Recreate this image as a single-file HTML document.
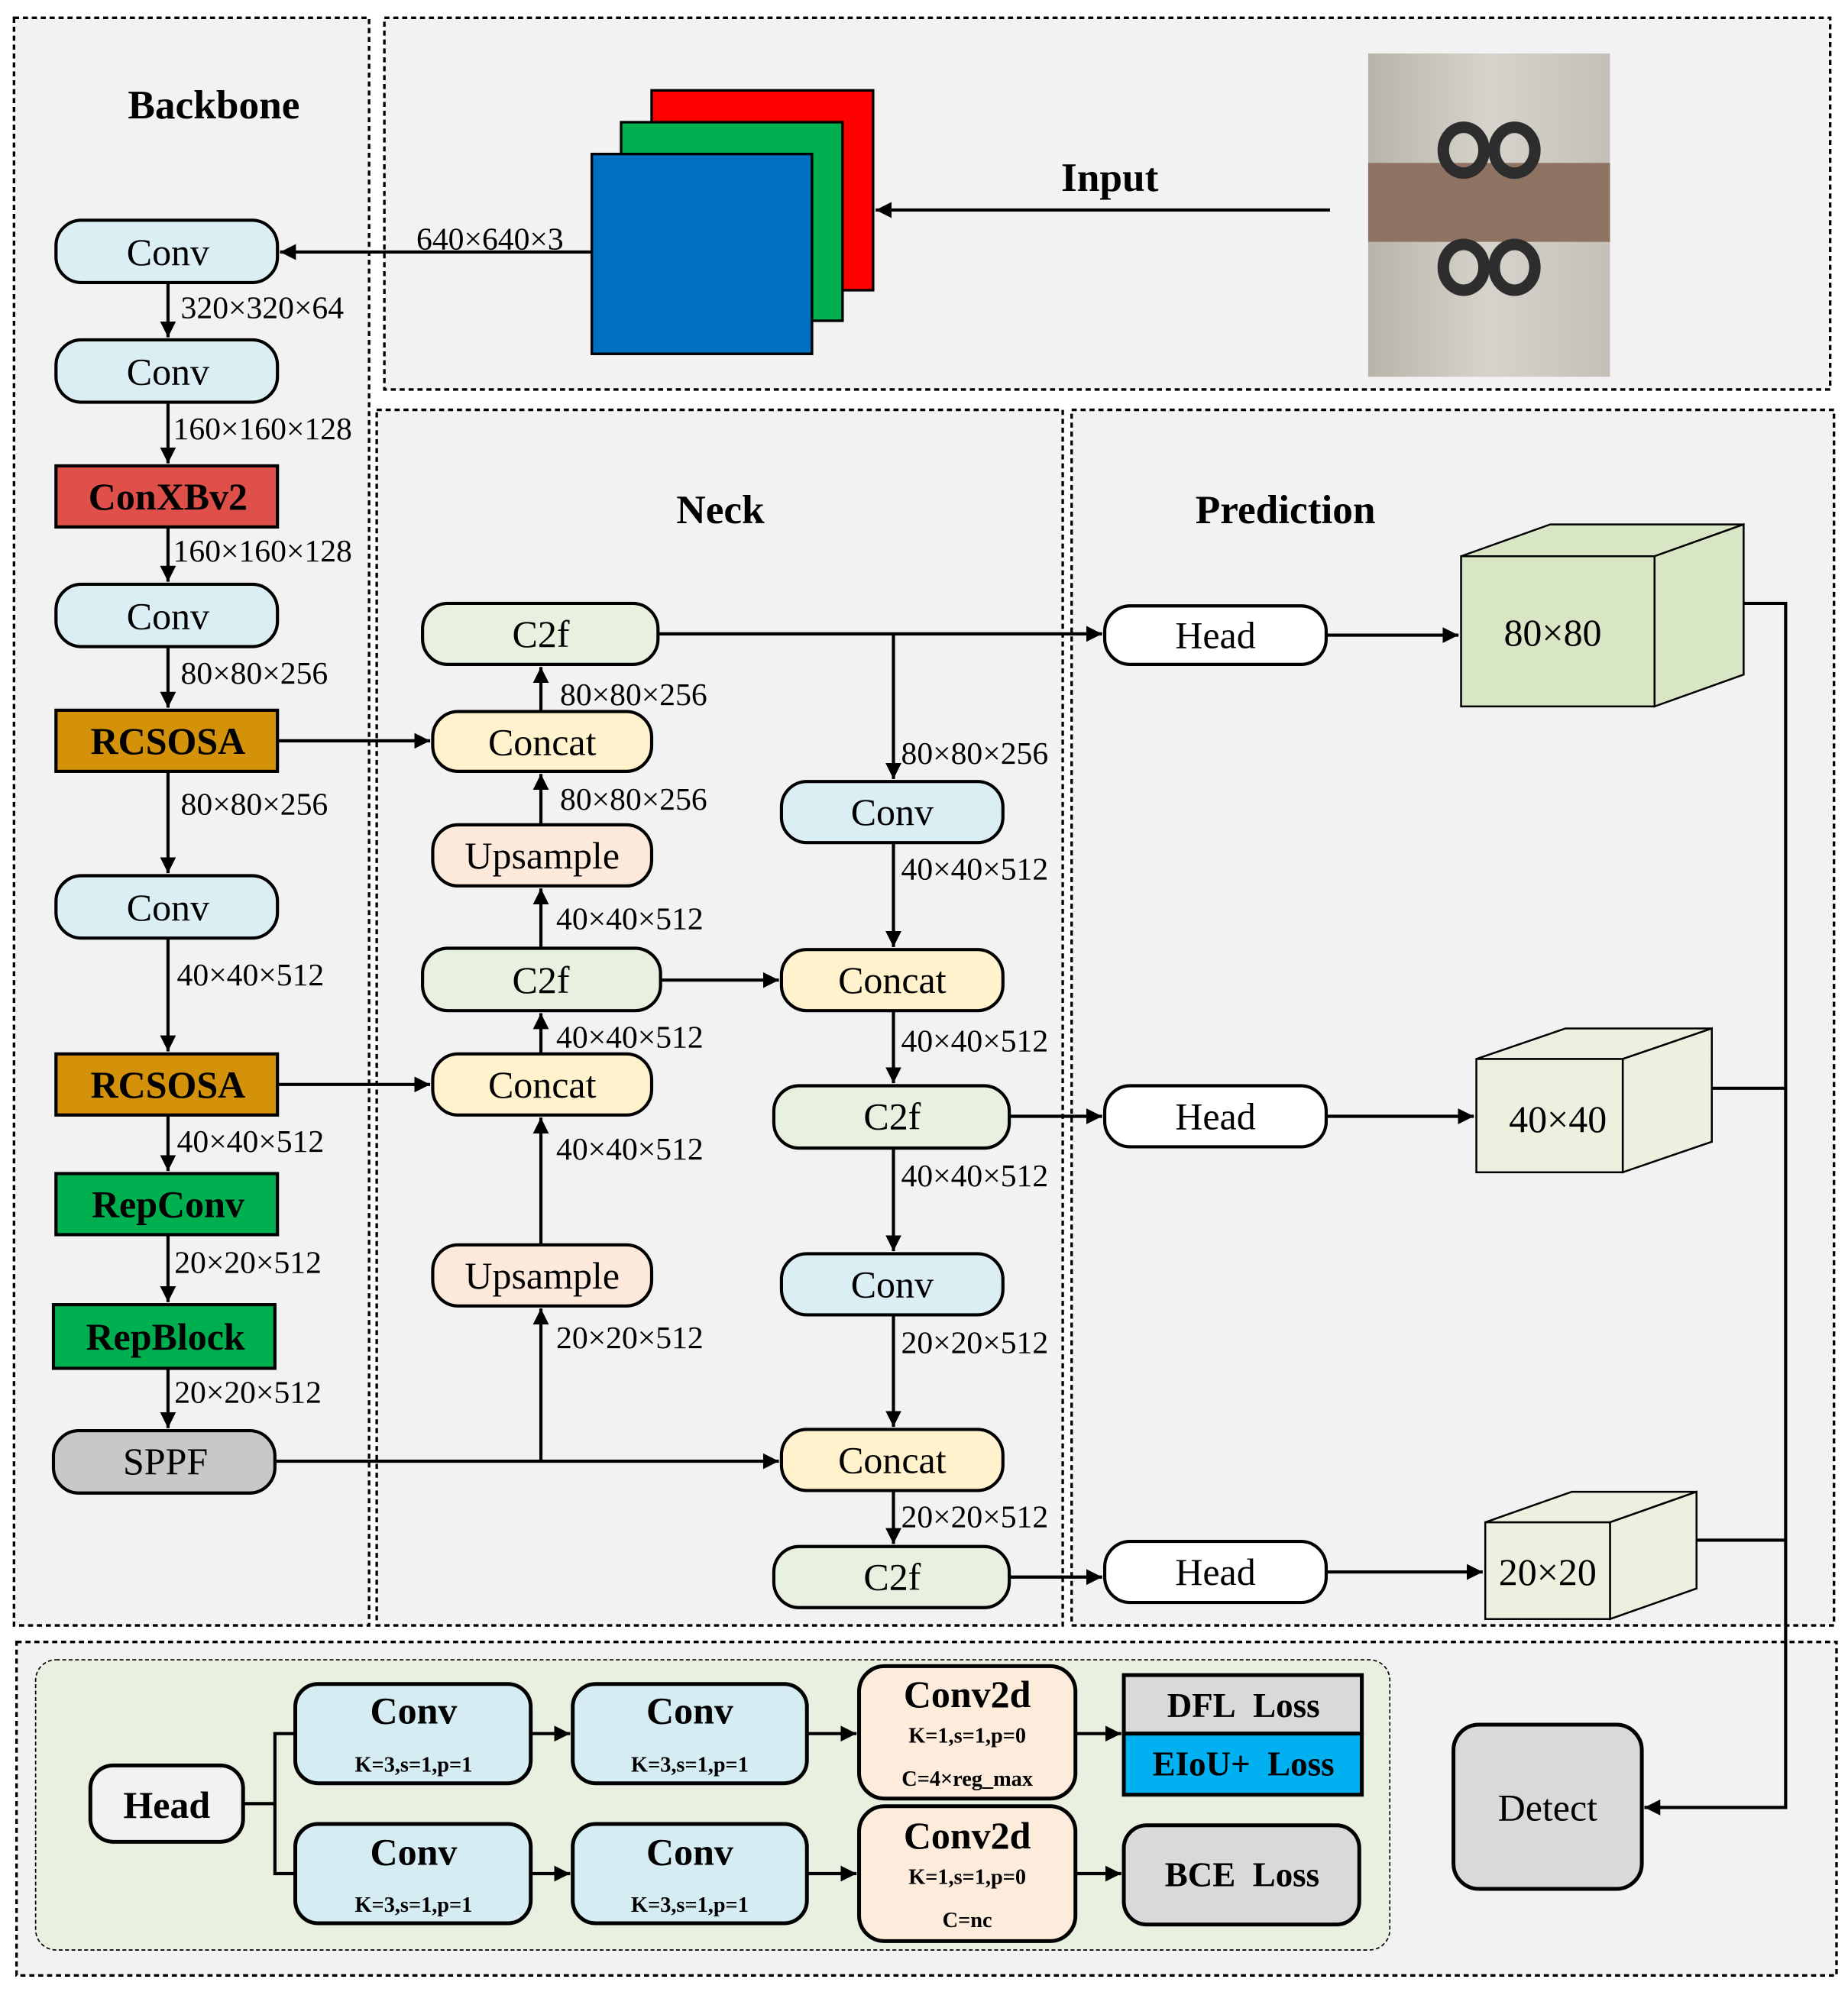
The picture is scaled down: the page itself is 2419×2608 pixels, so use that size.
<!DOCTYPE html>
<html><head><meta charset="utf-8"><style>
html,body{margin:0;padding:0;background:#fff}
svg{display:block}
text{font-family:"Liberation Serif",serif;fill:#000}
.n{font-size:30px;text-anchor:middle;dominant-baseline:central}
.b{font-weight:bold}
.l{font-size:25px}
.t{font-size:32px;font-weight:bold;text-anchor:middle}
.s{font-size:17px;font-weight:bold;text-anchor:middle}
</style></head><body>
<svg width="2419" height="2608" viewBox="0 0 1452 1565" preserveAspectRatio="none" xmlns="http://www.w3.org/2000/svg">
<defs>
<marker id="a" viewBox="0 0 10 10" refX="10" refY="5" markerWidth="5" markerHeight="5" orient="auto-start-reverse"><path d="M0,0 L10,5 L0,10 z" fill="#000"/></marker>
<linearGradient id="ph" x1="0" y1="0" x2="1" y2="0"><stop offset="0" stop-color="#b9b4a9"/><stop offset="0.5" stop-color="#d6d3cc"/><stop offset="1" stop-color="#c4c0b8"/></linearGradient>
</defs>
<g fill="#f2f2f2" stroke="#000" stroke-width="2" stroke-dasharray="4,3">
<rect x="11" y="14" width="279" height="1263"/>
<rect x="302" y="14" width="1136" height="292"/>
<rect x="296" y="322" width="539" height="955"/>
<rect x="842" y="322" width="599" height="955"/>
<rect x="13" y="1290" width="1430" height="262"/>
</g>
<rect x="28" y="1304" width="1064" height="228" rx="16" fill="#e9f0df" stroke="#000" stroke-width="1" stroke-dasharray="3,2"/>
<text class="t" x="168" y="93">Backbone</text>
<text class="t" x="872" y="150">Input</text>
<text class="t" x="566" y="411">Neck</text>
<text class="t" x="1010" y="411">Prediction</text>
<!-- input -->
<rect x="512" y="71" width="174" height="157" fill="#ff0000" stroke="#000" stroke-width="2"/>
<rect x="488" y="96" width="174" height="156" fill="#00b050" stroke="#000" stroke-width="2"/>
<rect x="465" y="121" width="173" height="157" fill="#0070c0" stroke="#000" stroke-width="2"/>
<rect x="1075" y="42" width="190" height="254" fill="url(#ph)"/>
<rect x="1075" y="128" width="190" height="62" fill="#8e7262"/>
<g fill="none" stroke="#2d2d2d" stroke-width="9"><ellipse cx="1150" cy="118" rx="16" ry="18"/><ellipse cx="1190" cy="118" rx="16" ry="18"/><ellipse cx="1150" cy="210" rx="16" ry="18"/><ellipse cx="1190" cy="210" rx="16" ry="18"/></g>
<g stroke="#000" stroke-width="2.5" fill="none" marker-end="url(#a)">
<line x1="1045" y1="165" x2="688" y2="165"/>
<line x1="465" y1="198" x2="220" y2="198"/>
</g>
<text class="l" x="385" y="196" text-anchor="middle">640×640×3</text>
<!-- backbone arrows -->
<g stroke="#000" stroke-width="2.5" marker-end="url(#a)">
<line x1="132" y1="222" x2="132" y2="265"/>
<line x1="132" y1="316" x2="132" y2="364"/>
<line x1="132" y1="414" x2="132" y2="457"/>
<line x1="132" y1="508" x2="132" y2="556"/>
<line x1="132" y1="606" x2="132" y2="686"/>
<line x1="132" y1="737" x2="132" y2="826"/>
<line x1="132" y1="876" x2="132" y2="920"/>
<line x1="132" y1="970" x2="132" y2="1023"/>
<line x1="132" y1="1075" x2="132" y2="1122"/>
</g>
<g class="l">
<text x="142" y="250">320×320×64</text>
<text x="136" y="345">160×160×128</text>
<text x="136" y="441">160×160×128</text>
<text x="142" y="537">80×80×256</text>
<text x="142" y="640">80×80×256</text>
<text x="139" y="774">40×40×512</text>
<text x="139" y="905">40×40×512</text>
<text x="137" y="1000">20×20×512</text>
<text x="137" y="1102">20×20×512</text>
</g>
<g stroke="#000" stroke-width="2.5">
<rect x="44" y="173" width="174" height="49" rx="20" fill="#dbeef4"/>
<rect x="44" y="267" width="174" height="49" rx="20" fill="#dbeef4"/>
<rect x="44" y="366" width="174" height="48" fill="#e0504a"/>
<rect x="44" y="459" width="174" height="49" rx="20" fill="#dbeef4"/>
<rect x="44" y="558" width="174" height="48" fill="#d4920a"/>
<rect x="44" y="688" width="174" height="49" rx="20" fill="#dbeef4"/>
<rect x="44" y="828" width="174" height="48" fill="#d4920a"/>
<rect x="44" y="922" width="174" height="48" fill="#00b050"/>
<rect x="42" y="1025" width="174" height="50" fill="#00b050"/>
<rect x="42" y="1124" width="174" height="49" rx="20" fill="#c8c8c8"/>
</g>
<text class="n" x="132" y="198">Conv</text>
<text class="n" x="132" y="292">Conv</text>
<text class="n b" x="132" y="390">ConXBv2</text>
<text class="n" x="132" y="484">Conv</text>
<text class="n b" x="132" y="582">RCSOSA</text>
<text class="n" x="132" y="713">Conv</text>
<text class="n b" x="132" y="852">RCSOSA</text>
<text class="n b" x="132" y="946">RepConv</text>
<text class="n b" x="130" y="1050">RepBlock</text>
<text class="n" x="130" y="1148">SPPF</text>
<!-- neck arrows -->
<g stroke="#000" stroke-width="2.5" fill="none" marker-end="url(#a)">
<line x1="517" y1="498" x2="866" y2="498"/>
<polyline points="702,498 702,612"/>
<line x1="425" y1="559" x2="425" y2="524"/>
<line x1="425" y1="648" x2="425" y2="608"/>
<line x1="425" y1="745" x2="425" y2="698"/>
<line x1="425" y1="828" x2="425" y2="796"/>
<line x1="425" y1="978" x2="425" y2="878"/>
<line x1="216" y1="1148" x2="612" y2="1148"/>
<polyline points="425,1148 425,1028"/>
<line x1="218" y1="582" x2="338" y2="582"/>
<line x1="218" y1="852" x2="338" y2="852"/>
<line x1="519" y1="770" x2="612" y2="770"/>
<line x1="702" y1="662" x2="702" y2="744"/>
<line x1="702" y1="794" x2="702" y2="851"/>
<line x1="702" y1="902" x2="702" y2="983"/>
<line x1="702" y1="1033" x2="702" y2="1121"/>
<line x1="702" y1="1171" x2="702" y2="1213"/>
<line x1="793" y1="877" x2="866" y2="877"/>
<line x1="793" y1="1239" x2="866" y2="1239"/>
<line x1="1042" y1="499" x2="1146" y2="499"/>
<line x1="1042" y1="877" x2="1158" y2="877"/>
<line x1="1042" y1="1235" x2="1165" y2="1235"/>
<polyline points="1370,474 1403,474 1403,1420 1292,1420"/>
<polyline points="1345,855 1403,855" marker-end="none"/>
<polyline points="1333,1210 1403,1210" marker-end="none"/>
</g>
<g class="l">
<text x="440" y="554">80×80×256</text>
<text x="440" y="636">80×80×256</text>
<text x="437" y="730">40×40×512</text>
<text x="437" y="823">40×40×512</text>
<text x="437" y="911">40×40×512</text>
<text x="437" y="1059">20×20×512</text>
<text x="708" y="600">80×80×256</text>
<text x="708" y="691">40×40×512</text>
<text x="708" y="826">40×40×512</text>
<text x="708" y="932">40×40×512</text>
<text x="708" y="1063">20×20×512</text>
<text x="708" y="1200">20×20×512</text>
</g>
<g stroke="#000" stroke-width="2.5">
<rect x="332" y="474" width="185" height="48" rx="20" fill="#e8f0df"/>
<rect x="340" y="559" width="172" height="47" rx="20" fill="#fff2cc"/>
<rect x="340" y="648" width="172" height="48" rx="20" fill="#fde9dc"/>
<rect x="332" y="745" width="187" height="49" rx="20" fill="#e8f0df"/>
<rect x="340" y="828" width="172" height="48" rx="20" fill="#fff2cc"/>
<rect x="340" y="978" width="172" height="48" rx="20" fill="#fde9dc"/>
<rect x="614" y="614" width="174" height="48" rx="20" fill="#dbeef4"/>
<rect x="614" y="746" width="174" height="48" rx="20" fill="#fff2cc"/>
<rect x="608" y="853" width="185" height="49" rx="20" fill="#e8f0df"/>
<rect x="614" y="985" width="174" height="48" rx="20" fill="#dbeef4"/>
<rect x="614" y="1123" width="174" height="48" rx="20" fill="#fff2cc"/>
<rect x="608" y="1215" width="185" height="48" rx="20" fill="#e8f0df"/>
<rect x="868" y="476" width="174" height="46" rx="20" fill="#fff"/>
<rect x="868" y="853" width="174" height="48" rx="20" fill="#fff"/>
<rect x="868" y="1211" width="174" height="48" rx="20" fill="#fff"/>
</g>
<text class="n" x="425" y="498">C2f</text>
<text class="n" x="426" y="583">Concat</text>
<text class="n" x="426" y="672">Upsample</text>
<text class="n" x="425" y="770">C2f</text>
<text class="n" x="426" y="852">Concat</text>
<text class="n" x="426" y="1002">Upsample</text>
<text class="n" x="701" y="638">Conv</text>
<text class="n" x="701" y="770">Concat</text>
<text class="n" x="701" y="877">C2f</text>
<text class="n" x="701" y="1009">Conv</text>
<text class="n" x="701" y="1147">Concat</text>
<text class="n" x="701" y="1239">C2f</text>
<text class="n" x="955" y="499">Head</text>
<text class="n" x="955" y="877">Head</text>
<text class="n" x="955" y="1235">Head</text>
<!-- cubes -->
<g stroke="#000" stroke-width="1.5" fill="#d8e6c5">
<polygon points="1148,437 1218,412 1370,412 1300,437"/>
<polygon points="1300,437 1370,412 1370,530 1300,555"/>
<rect x="1148" y="437" width="152" height="118"/>
</g>
<g stroke="#000" stroke-width="1.5" fill="#ebf1de">
<polygon points="1160,832 1230,808 1345,808 1275,832"/>
<polygon points="1275,832 1345,808 1345,897 1275,921"/>
<rect x="1160" y="832" width="115" height="89"/>
<polygon points="1167,1196 1235,1172 1333,1172 1265,1196"/>
<polygon points="1265,1196 1333,1172 1333,1248 1265,1272"/>
<rect x="1167" y="1196" width="98" height="76"/>
</g>
<text class="n" x="1220" y="497">80×80</text>
<text class="n" x="1224" y="879">40×40</text>
<text class="n" x="1216" y="1235">20×20</text>
<!-- bottom -->
<g stroke="#000" stroke-width="2.5" fill="none">
<line x1="191" y1="1417" x2="216" y2="1417"/>
<polyline points="232,1362 216,1362 216,1472 232,1472"/>
</g>
<g stroke="#000" stroke-width="2.5" marker-end="url(#a)">
<line x1="417" y1="1362" x2="448" y2="1362"/>
<line x1="634" y1="1362" x2="673" y2="1362"/>
<line x1="845" y1="1362" x2="881" y2="1362"/>
<line x1="417" y1="1472" x2="448" y2="1472"/>
<line x1="634" y1="1472" x2="673" y2="1472"/>
<line x1="845" y1="1472" x2="881" y2="1472"/>
</g>
<g stroke="#000" stroke-width="3">
<rect x="71" y="1387" width="120" height="60" rx="18" fill="#f2f2f2"/>
<rect x="232" y="1323" width="185" height="78" rx="18" fill="#d5edf2"/>
<rect x="450" y="1323" width="184" height="78" rx="18" fill="#d5edf2"/>
<rect x="675" y="1309" width="170" height="104" rx="20" fill="#fdebdc"/>
<rect x="883" y="1316" width="187" height="46" fill="#d9d9d9"/>
<rect x="883" y="1362" width="187" height="48" fill="#00b0f0"/>
<rect x="232" y="1433" width="185" height="78" rx="18" fill="#d5edf2"/>
<rect x="450" y="1433" width="184" height="78" rx="18" fill="#d5edf2"/>
<rect x="675" y="1419" width="170" height="106" rx="20" fill="#fdebdc"/>
<rect x="883" y="1434" width="185" height="78" rx="18" fill="#d9d9d9"/>
<rect x="1142" y="1355" width="148" height="129" rx="20" fill="#d9d9d9"/>
</g>
<text class="n b" x="131" y="1418">Head</text>
<text class="n b" x="325" y="1344">Conv</text><text class="s" x="325" y="1392">K=3,s=1,p=1</text>
<text class="n b" x="542" y="1344">Conv</text><text class="s" x="542" y="1392">K=3,s=1,p=1</text>
<text class="n b" x="760" y="1331">Conv2d</text><text class="s" x="760" y="1369">K=1,s=1,p=0</text><text class="s" x="760" y="1403">C=4×reg_max</text>
<text class="n b" x="977" y="1340" style="font-size:27px">DFL&#160; Loss</text>
<text class="n b" x="977" y="1386" style="font-size:27px">EIoU+&#160; Loss</text>
<text class="n b" x="325" y="1455">Conv</text><text class="s" x="325" y="1502">K=3,s=1,p=1</text>
<text class="n b" x="542" y="1455">Conv</text><text class="s" x="542" y="1502">K=3,s=1,p=1</text>
<text class="n b" x="760" y="1442">Conv2d</text><text class="s" x="760" y="1480">K=1,s=1,p=0</text><text class="s" x="760" y="1514">C=nc</text>
<text class="n b" x="976" y="1473" style="font-size:27px">BCE&#160; Loss</text>
<text class="n" x="1216" y="1420">Detect</text>
</svg>
</body></html>
